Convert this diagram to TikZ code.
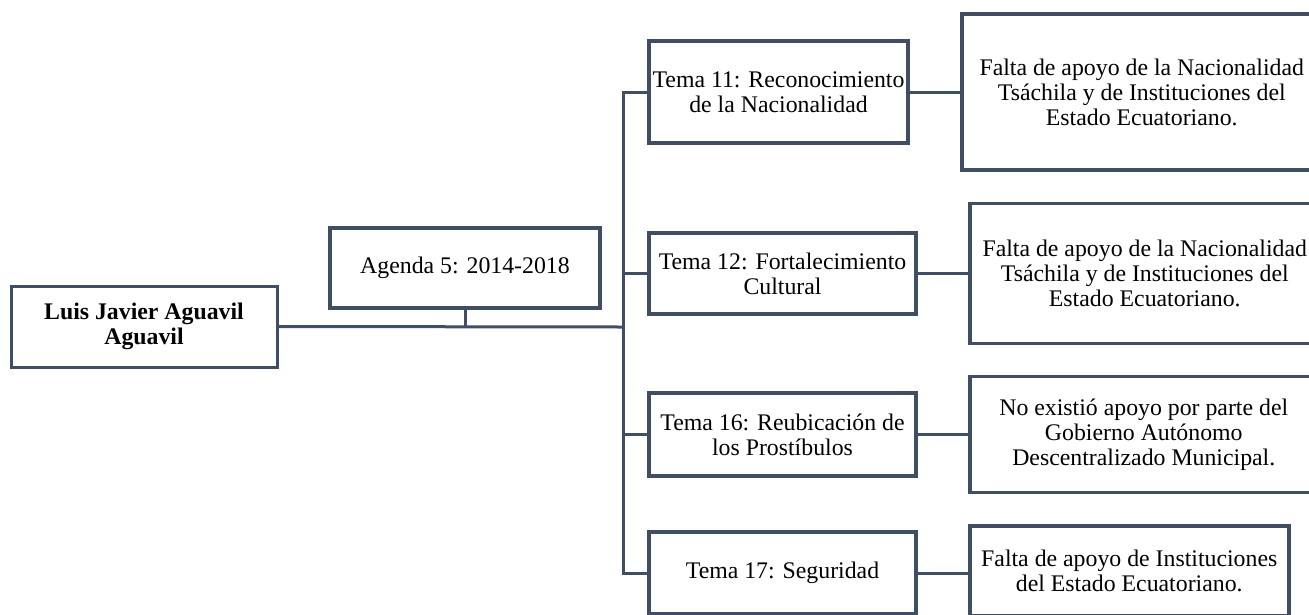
\documentclass[tikz,border=0pt]{standalone}
\usepackage{fontspec}
\setmainfont{Liberation Serif}
\definecolor{linea}{HTML}{3F4E62}
\begin{document}
\begin{tikzpicture}[x=1pt,y=-1pt,
  caja/.style={draw=linea, line width=3.5pt, align=center, inner sep=0pt,
    font=\fontsize{23.8}{25}\selectfont},
  enlace/.style={draw=linea, line width=3pt}]
\useasboundingbox (0,0) rectangle (1309,614);
\node[caja, line width=3pt, minimum width=266, minimum height=81, font=\fontsize{23.8}{25}\selectfont\bfseries] (root) at (144,326.5) {Luis Javier Aguavil\\Aguavil};
\node[caja, minimum width=270, minimum height=80] (agenda) at (465,268) {Agenda 5: 2014-2018};
\coordinate (trunk) at (623,327);
\node[caja, minimum width=259, minimum height=102] (t11) at (778.5,92) {Tema 11: Reconocimiento\\de la Nacionalidad};
\node[caja, minimum width=267, minimum height=81] (t12) at (782.5,273.5) {Tema 12: Fortalecimiento\\Cultural};
\node[caja, minimum width=267, minimum height=83] (t16) at (782.5,434.5) {Tema 16: Reubicación de\\los Prostíbulos};
\node[caja, minimum width=267, minimum height=82] (t17) at (782.5,573) {Tema 17: Seguridad};
\node[caja, minimum width=360, minimum height=156, anchor=west] (r11) at (960,92) {Falta de apoyo de la Nacionalidad\\Tsáchila y de Instituciones del\\Estado Ecuatoriano.};
\node[caja, minimum width=350, minimum height=140, anchor=west] (r12) at (968,273.5) {Falta de apoyo de la Nacionalidad\\Tsáchila y de Instituciones del\\Estado Ecuatoriano.};
\node[caja, minimum width=348, minimum height=116, anchor=west] (r16) at (968,434.5) {No existió apoyo por parte del\\Gobierno Autónomo\\Descentralizado Municipal.};
\node[caja, minimum width=319, minimum height=90, anchor=west] (r17) at (968,571) {Falta de apoyo de Instituciones\\del Estado Ecuatoriano.};
\draw[enlace] (root.east) -- (trunk);
\draw[enlace] (agenda.south) -- (agenda.south |- trunk);
\draw[enlace] (trunk) |- (t11.west);
\draw[enlace] (trunk) |- (t12.west);
\draw[enlace] (trunk) |- (t16.west);
\draw[enlace] (trunk) |- (t17.west);
\draw[enlace] (t11.east) -- (t11.east -| r11.west);
\draw[enlace] (t12.east) -- (t12.east -| r12.west);
\draw[enlace] (t16.east) -- (t16.east -| r16.west);
\draw[enlace] (t17.east) -- (t17.east -| r17.west);
\end{tikzpicture}
\end{document}
